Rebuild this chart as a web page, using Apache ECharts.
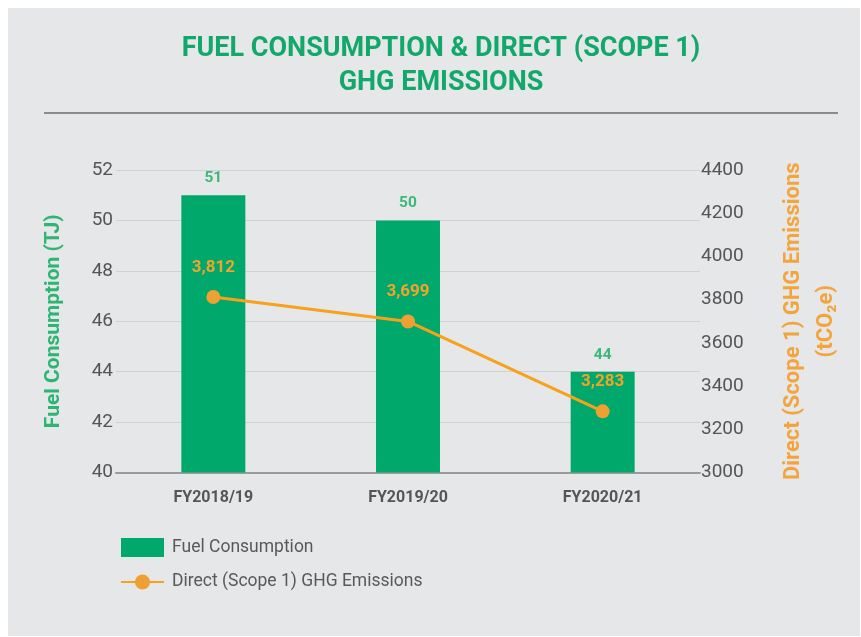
<!DOCTYPE html>
<html>
<head>
<meta charset="utf-8">
<script src="https://cdn.jsdelivr.net/npm/echarts@6/dist/echarts.min.js"></script>
<style>
html,body{margin:0;padding:0;background:#ffffff;}
#c{width:861px;height:637px;}
</style>
</head>
<body>
<div id="c"></div>
<script>
const categories = ['FY2018/19', 'FY2019/20', 'FY2020/21'];
const fuelConsumption = [51, 50, 44];
const ghgEmissions = [3812, 3699, 3283];
const leftTicks = {min: 40, max: 52, interval: 2};
const rightTicks = {min: 3000, max: 4400, interval: 200};

const TITLEFONT = 'Roboto,"Noto Sans",sans-serif';
const BODY = 'Roboto,"Noto Sans",sans-serif';
const GREEN = '#00a96b';
const ORANGE = '#f7a11d';

const chart = echarts.init(document.getElementById('c'), null, {renderer: 'canvas'});
chart.setOption({
  backgroundColor: '#ffffff',
  graphic: [
    {type: 'rect', z: -10, shape: {x: 8, y: 8, width: 852, height: 628}, style: {fill: '#e6e7e8'}},
    {type: 'line', shape: {x1: 44, y1: 113, x2: 838, y2: 113}, style: {stroke: '#8c8c8c', lineWidth: 2}}
  ],
  title: {
    text: 'FUEL CONSUMPTION & DIRECT (SCOPE 1)\nGHG EMISSIONS',
    left: 436,
    textAlign: 'center',
    top: 27,
    textStyle: {color: '#13a86b', fontFamily: TITLEFONT, fontWeight: 'bold', fontSize: 27, lineHeight: 34}
  },
  legend: {
    orient: 'vertical',
    left: 115,
    top: 533,
    itemWidth: 43,
    itemHeight: 19,
    itemGap: 16,
    textStyle: {color: '#595959', fontFamily: BODY, fontSize: 17.5, padding: [0, 0, 0, 3]},
    data: [
      {name: 'Fuel Consumption', icon: 'rect'},
      {name: 'Direct (Scope 1) GHG Emissions'}
    ]
  },
  grid: {left: 116, right: 161, top: 170, bottom: 164.5},
  xAxis: {
    type: 'category',
    data: categories,
    axisLine: {lineStyle: {color: '#9a9a9a', width: 2}},
    axisTick: {show: false},
    axisLabel: {color: '#555555', fontFamily: BODY, fontWeight: 'bold', fontSize: 16, margin: 17}
  },
  yAxis: [
    {
      type: 'value',
      min: leftTicks.min, max: leftTicks.max, interval: leftTicks.interval,
      name: 'Fuel Consumption (TJ)',
      nameLocation: 'middle',
      nameGap: 52,
      nameTextStyle: {color: '#2db574', fontFamily: BODY, fontWeight: 'bold', fontSize: 21},
      axisLine: {show: false},
      axisTick: {show: false},
      axisLabel: {color: '#555555', fontFamily: BODY, fontSize: 19, margin: 3},
      splitLine: {lineStyle: {color: '#d0d1d3', width: 1}}
    },
    {
      type: 'value',
      min: rightTicks.min, max: rightTicks.max, interval: rightTicks.interval,
      name: 'Direct (Scope 1) GHG Emissions\n(tCO\u2082e)',
      nameLocation: 'middle',
      nameGap: 77,
      nameRotate: 90,
      nameTextStyle: {color: '#f3a43c', fontFamily: BODY, fontWeight: 'bold', fontSize: 22, lineHeight: 33},
      axisLine: {show: false},
      axisTick: {show: false},
      axisLabel: {color: '#555555', fontFamily: BODY, fontSize: 19, margin: 1, formatter: v => String(v)},
      splitLine: {show: false}
    }
  ],
  series: [
    {
      name: 'Fuel Consumption',
      type: 'bar',
      data: fuelConsumption,
      barWidth: 64,
      itemStyle: {color: GREEN},
      label: {show: true, position: 'top', distance: 9, color: '#3cb878', fontFamily: BODY, fontWeight: 'bold', fontSize: 15.5}
    },
    {
      name: 'Direct (Scope 1) GHG Emissions',
      type: 'line',
      yAxisIndex: 1,
      data: ghgEmissions,
      symbol: 'circle',
      symbolSize: 14,
      lineStyle: {color: ORANGE, width: 3},
      itemStyle: {color: '#efa033'},
      label: {
        show: true, position: 'top', distance: 14,
        color: '#f3a32d', fontFamily: BODY, fontWeight: 'bold', fontSize: 17,
        formatter: p => p.value.toLocaleString('en-US')
      }
    }
  ]
});
</script>
</body>
</html>
